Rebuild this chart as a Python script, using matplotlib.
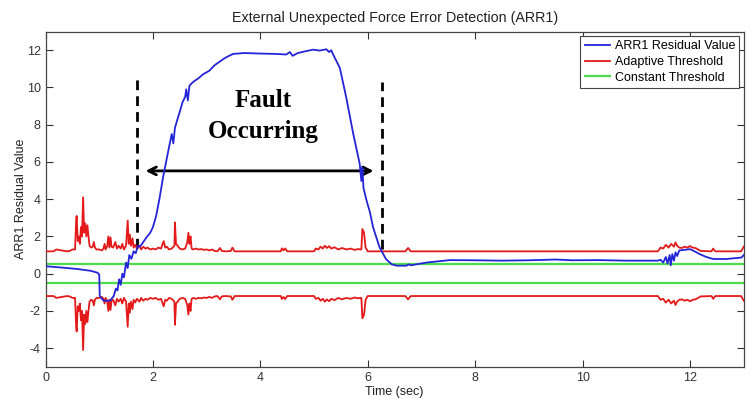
import numpy as np
import matplotlib
matplotlib.use("Agg")
from matplotlib import pyplot as plt

# residual value (time in sec, value)
res_t = [0.00, 0.30, 0.60, 0.85, 0.97, 1.00, 1.01, 1.08, 1.20, 1.27, 1.31, 1.34, 1.37, 1.40,
         1.43, 1.46, 1.50, 1.53, 1.56, 1.60, 1.64, 1.68, 1.72, 1.76, 1.82, 1.88, 1.95, 2.00,
         2.06, 2.12, 2.19, 2.30, 2.35, 2.38, 2.41, 2.50, 2.55, 2.60, 2.62, 2.65, 2.68, 2.75, 2.85,
         2.93, 3.05, 3.15, 3.25, 3.35, 3.49, 3.70, 4.00, 4.30, 4.48, 4.55, 4.60, 4.70, 4.85,
         4.98, 5.10, 5.23, 5.28, 5.32, 5.35, 5.48, 5.60, 5.73, 5.85, 5.88, 5.90, 5.92, 5.98,
         6.04, 6.10, 6.22, 6.34, 6.45, 6.54, 6.72, 6.76, 6.80, 7.10, 7.53, 8.00, 8.50, 9.00,
         9.50, 9.80, 10.30, 10.80, 11.40, 11.45, 11.50, 11.55, 11.58, 11.62, 11.64, 11.67,
         11.70, 11.73, 11.76, 11.80, 11.90, 12.00, 12.05, 12.18, 12.30, 12.43, 12.68, 12.90,
         12.96, 13.00]
res_v = [0.40, 0.33, 0.25, 0.15, 0.05, -0.05, -1.20, -1.45, -1.45, -1.20, -0.80, -0.90, -0.30, -0.60,
         0.00, -0.20, 0.60, 0.30, 1.00, 0.80, 1.20, 1.10, 1.50, 1.45, 1.70, 1.95, 2.20, 2.50,
         3.10, 4.00, 5.20, 6.80, 7.50, 7.00, 7.84, 8.70, 9.20, 9.50, 9.90, 9.30, 10.10, 10.30, 10.50,
         10.70, 10.90, 11.20, 11.40, 11.60, 11.80, 11.85, 11.82, 11.80, 11.77, 11.90, 11.70, 11.85, 11.95,
         12.03, 11.98, 12.05, 11.90, 12.00, 11.80, 11.05, 9.45, 7.50, 5.90, 4.98, 5.70, 4.60, 3.90,
         3.30, 2.48, 1.41, 0.78, 0.50, 0.43, 0.43, 0.50, 0.45, 0.60, 0.73, 0.72, 0.70, 0.72,
         0.76, 0.72, 0.73, 0.70, 0.70, 0.75, 0.60, 0.90, 0.55, 1.00, 0.45, 1.05,
         0.70, 1.15, 0.95, 1.25, 1.28, 1.32, 1.25, 1.05, 0.90, 0.79, 0.79, 0.85,
         0.87, 1.00]

# adaptive threshold (upper branch, lower branch is the mirror)
thr_t = [0.00, 0.15, 0.20, 0.30, 0.40, 0.45, 0.50, 0.55, 0.57, 0.58, 0.60, 0.62, 0.64, 0.66,
         0.68, 0.70, 0.72, 0.74, 0.76, 0.78, 0.80, 0.82, 0.85, 0.88, 0.90, 0.92, 0.95, 1.00,
         1.05, 1.08, 1.10, 1.12, 1.15, 1.17, 1.19, 1.21, 1.23, 1.26, 1.30, 1.33, 1.36, 1.40,
         1.43, 1.46, 1.50, 1.53, 1.55, 1.57, 1.59, 1.62, 1.64, 1.67, 1.70, 1.75, 1.78, 1.82,
         1.86, 1.90, 1.95, 2.00, 2.05, 2.10, 2.15, 2.20, 2.23, 2.26, 2.30, 2.35, 2.40, 2.41,
         2.43, 2.46, 2.50, 2.55, 2.60, 2.64, 2.66, 2.68, 2.70, 2.72, 2.75, 2.80, 2.85, 2.90,
         2.95, 3.00, 3.05, 3.10, 3.15, 3.20, 3.25, 3.28, 3.35, 3.45, 3.48, 3.52, 4.38, 4.40,
         4.43, 4.46, 4.50, 5.00, 5.03, 5.08, 5.12, 5.16, 5.20, 5.24, 5.28, 5.32, 5.38, 5.45,
         5.52, 5.60, 5.68, 5.75, 5.82, 5.88, 5.90, 5.93, 5.96, 6.00, 6.70, 6.75, 6.80, 11.40,
         11.45, 11.50, 11.55, 11.60, 11.65, 11.70, 11.73, 11.76, 11.80, 11.85, 11.90, 11.95,
         12.00, 12.05, 12.10, 12.20, 12.40, 12.43, 12.47, 12.95, 13.00]
thr_v = [1.20, 1.20, 1.30, 1.25, 1.20, 1.22, 1.30, 1.30, 2.80, 3.10, 1.75, 2.00, 1.60, 2.50,
         2.00, 4.10, 2.20, 2.70, 2.00, 2.60, 2.00, 1.50, 1.40, 1.45, 1.70, 1.40, 1.30, 1.30,
         1.25, 1.35, 1.60, 1.30, 1.50, 2.00, 1.40, 1.95, 1.45, 1.40, 1.70, 1.35, 1.50, 1.35,
         1.60, 1.30, 1.50, 2.85, 1.60, 2.10, 1.50, 1.90, 1.40, 1.55, 1.35, 1.50, 1.30, 1.45,
         1.35, 1.40, 1.30, 1.35, 1.30, 1.40, 1.35, 1.75, 1.40, 1.45, 1.30, 1.35, 1.50, 2.75,
         1.60, 1.50, 1.35, 1.30, 1.35, 1.70, 2.20, 1.60, 2.00, 1.35, 1.30, 1.35, 1.30, 1.32,
         1.28, 1.30, 1.25, 1.30, 1.22, 1.20, 1.38, 1.22, 1.20, 1.22, 1.40, 1.20, 1.20, 1.36,
         1.25, 1.36, 1.20, 1.20, 1.35, 1.30, 1.45, 1.35, 1.50, 1.38, 1.48, 1.35, 1.42, 1.30,
         1.38, 1.30, 1.35, 1.28, 1.32, 1.30, 2.40, 2.20, 1.40, 1.20, 1.20, 1.38, 1.20, 1.20,
         1.40, 1.35, 1.55, 1.40, 1.60, 1.45, 1.68, 1.50, 1.40, 1.38, 1.45, 1.40,
         1.48, 1.40, 1.38, 1.22, 1.20, 1.35, 1.20, 1.20, 1.45]

const_thr = 0.5
fault_start, fault_end = 1.71, 6.26

plt.rcParams['font.family'] = ['Liberation Sans', 'DejaVu Sans']
plt.rcParams['axes.unicode_minus'] = False

fig = plt.figure(figsize=(7.46, 4.0), dpi=100)
ax = fig.add_axes([0.061, 0.083, 0.936, 0.838])

ax.plot(res_t, res_v, color='#2424d8', lw=1.3, label='ARR1 Residual Value', zorder=4)
ax.plot(thr_t, thr_v, color='#e41a1a', lw=1.3, label='Adaptive Threshold', zorder=3)
ax.plot(thr_t, -np.array(thr_v), color='#e41a1a', lw=1.3, zorder=3)
ax.axhline(const_thr, color='#4ddc4d', lw=1.6, label='Constant Threshold', zorder=2)
ax.axhline(-const_thr, color='#4ddc4d', lw=1.6, zorder=2)

# fault window annotation
ax.plot([fault_start, fault_start], [1.4, 10.7], color='black', lw=2, dashes=(3.5, 2.2))
ax.plot([fault_end, fault_end], [1.3, 10.3], color='black', lw=2, dashes=(3.5, 2.2))
ax.annotate('', xy=(1.81, 5.52), xytext=(6.16, 5.52),
            arrowprops=dict(arrowstyle='<->', color='black', lw=2, mutation_scale=14))
ax.text(4.05, 8.45, 'Fault\nOccurring', ha='center', va='center', fontsize=18,
        fontweight='bold', family='Liberation Serif', linespacing=1.45)

ax.set_xlim(0, 13)
ax.set_ylim(-5, 13)
ax.set_xticks(range(0, 13, 2))
ax.set_yticks(range(-4, 13, 2))
ax.tick_params(direction='in', top=True, right=True, length=5, labelsize=9,
               colors='#333333', width=0.8)
for s in ax.spines.values():
    s.set_color('#444444')
    s.set_linewidth(0.9)

ax.set_title('External Unexpected Force Error Detection (ARR1)', fontsize=10.3,
             color='#222222', pad=7)
ax.set_xlabel('Time (sec)', fontsize=9, color='#222222', labelpad=2)
ax.set_ylabel('ARR1 Residual Value', fontsize=9, color='#222222')
ax.yaxis.set_label_coords(-0.026, 0.5)

leg = ax.legend(loc='upper right', fontsize=9, handlelength=2.0, handletextpad=0.4,
                labelspacing=0.3, borderpad=0.35, borderaxespad=0.35, fancybox=False,
                framealpha=1)
leg.get_frame().set_edgecolor('#444444')
leg.get_frame().set_linewidth(0.8)

fig.savefig('out.png', dpi=100)
